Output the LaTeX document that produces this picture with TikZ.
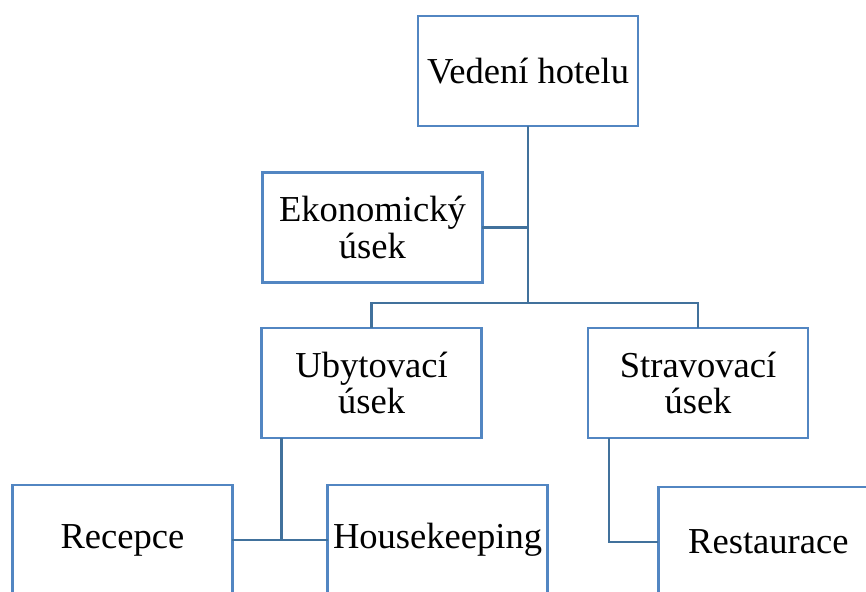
\documentclass[tikz,border=0pt]{standalone}
\usepackage{fontspec}
\setmainfont{Liberation Serif}
\usepackage{xcolor}
\usepackage{tikz}
\usetikzlibrary{calc}
\definecolor{OrgBlue}{HTML}{5286C2}
\definecolor{OrgLine}{HTML}{41719C}
\tikzset{
  orgline/.style={draw=OrgLine, line width=1.6pt, line cap=rect},
}

\begin{document}
\begin{tikzpicture}[
  font=\fontsize{26}{26}\selectfont,
  unit/.style={draw=OrgBlue, line width=1.7pt, fill=white, align=center,
    minimum width=5.5cm, minimum height=2.75cm, inner sep=2pt}
]
\useasboundingbox (0,0) rectangle (21.65,14.775);
\clip (0,0) rectangle (21.65,14.775);
\node[unit] at (13.2,13.0) (vedeni) {Vedení hotelu};
\node[unit] at (9.31,9.09) (ekon) {Ekonomický\\úsek};
\node[unit] at (9.29,5.2) (ubyt) {Ubytovací\\úsek};
\node[unit] at (17.45,5.2) (strav) {Stravovací\\úsek};
\node[unit] at (3.06,1.27) (rec) {Recepce};
\node[unit] at (10.94,1.27) (hk) {Housekeeping};
\node[unit] at (19.21,1.23) (rest) {Restaurace};

% bus under the management box, feeding both departments
\coordinate (bus) at (13.2,7.2);
\draw[orgline] (vedeni.south) -- (bus);
\draw[orgline] (ekon.east) -- (ekon.east -| vedeni.south);
\draw[orgline] (ubyt.north) |- (bus) -| (strav.north);
% sub-units hang off the left side of each department
\coordinate (ubytjoin) at ([xshift=0.53cm]ubyt.south west);
\coordinate (stravjoin) at ([xshift=0.55cm]strav.south west);
\draw[orgline] (rec.east) -- (hk.west);
\draw[orgline] (ubytjoin) -- (ubytjoin |- rec.east);
\draw[orgline] (stravjoin) |- (rest.west);
\end{tikzpicture}
\end{document}
